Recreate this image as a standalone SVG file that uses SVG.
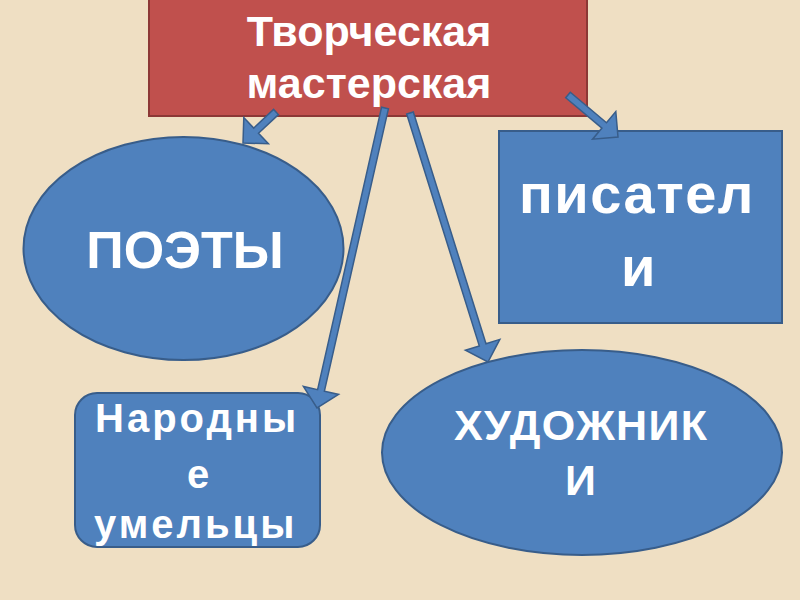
<svg xmlns="http://www.w3.org/2000/svg" width="800" height="600" viewBox="0 0 800 600">
<style>
.bg{fill:#EFDFC3}
.blue{fill:#4F81BD;stroke:#385D8A;stroke-width:2}
.red{fill:#C0504D;stroke:#8C3836;stroke-width:2}
.arrow{fill:#4F81BD;stroke:#385D8A;stroke-width:1.5;stroke-linejoin:miter}
.t{font-family:"Liberation Sans",Arial,sans-serif;font-weight:bold;fill:#FFFFFF}
</style>
<rect class="bg" x="0" y="0" width="800" height="600"/>
<g id="node-tvorcheskaya">
<rect class="red" x="149" y="-2" width="438" height="118"/>
<text class="t" x="369" y="46" font-size="43" text-anchor="middle">Творческая</text>
<text class="t" x="369" y="98" font-size="43" text-anchor="middle">мастерская</text>
</g>
<g id="node-poety">
<ellipse class="blue" cx="183.5" cy="248.5" rx="160" ry="111.5"/>
<text class="t" x="185" y="268" font-size="52" text-anchor="middle">ПОЭТЫ</text>
</g>
<g id="node-pisateli">
<rect class="blue" x="499" y="131" width="283" height="192"/>
<text class="t" x="519" y="213" font-size="56" letter-spacing="1.5">писател</text>
<text class="t" x="621" y="286" font-size="56">и</text>
</g>
<g id="node-narodnye">
<rect class="blue" x="75" y="393" width="245" height="154" rx="22" ry="22"/>
<text class="t" x="95" y="432" font-size="40" letter-spacing="3">Народны</text>
<text class="t" x="198" y="488" font-size="40" text-anchor="middle">е</text>
<text class="t" x="94" y="538" font-size="40" letter-spacing="3">умельцы</text>
</g>
<g id="node-khudozhniki">
<ellipse class="blue" cx="582" cy="452.5" rx="200" ry="102.5"/>
<text class="t" x="454" y="440" font-size="43" letter-spacing="1.3">ХУДОЖНИК</text>
<text class="t" x="565" y="495" font-size="43">И</text>
</g>
<g id="connectors">
<polygon class="arrow" points="273.6,109.4 253.7,128.1 243.8,117.6 243,143 268.4,143.8 258.5,133.3 278.4,114.6"/>
<polygon class="arrow" points="381.6,107.2 317.6,389.7 303.4,386.5 317,408 338.6,394.4 324.4,391.2 388.4,108.8"/>
<polygon class="arrow" points="406.7,114 479.3,345.9 465.4,350.2 488,362 499.8,339.4 486,343.8 413.3,112"/>
<polygon class="arrow" points="565.7,97.7 601.9,128.1 592.6,139.2 618,137 615.8,111.6 606.5,122.7 570.3,92.3"/>
</g>
</svg>
